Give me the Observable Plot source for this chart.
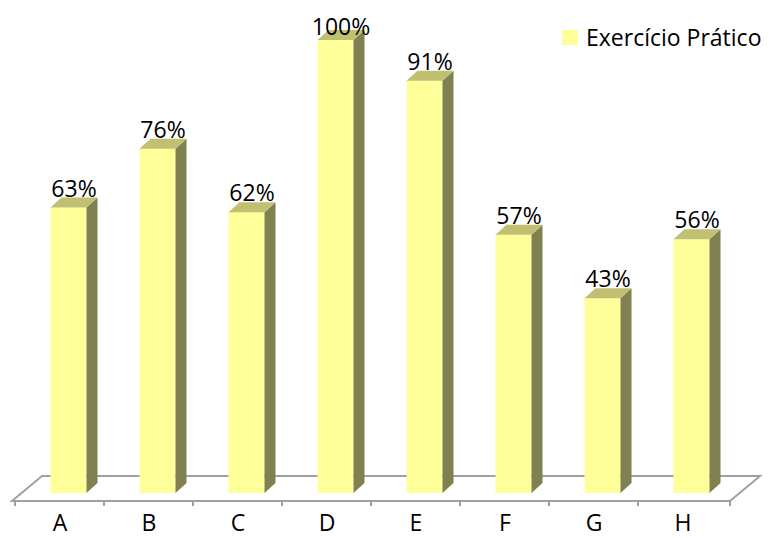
<!DOCTYPE html>
<html><head><meta charset="utf-8">
<script src="https://cdn.jsdelivr.net/npm/d3@7"></script>
<script src="https://cdn.jsdelivr.net/npm/@observablehq/plot@0.6"></script>
<style>body{margin:0;background:#fff} svg{display:block}</style>
</head><body><div id="chart"></div>
<script>
const categories = ["A","B","C","D","E","F","G","H"];
const values = [0.63, 0.76, 0.62, 1.00, 0.91, 0.57, 0.43, 0.56];
const valueLabels = ["63%","76%","62%","100%","91%","57%","43%","56%"];
const seriesName = "Exercício Prático";

const data = categories.map((c, i) => ({cat: c, value: values[i], label: valueLabels[i]}));

const FONT = "'Open Sans', sans-serif";
const FS = 23;
const FRONT = "#FFFF99", TOP = "#C0C070", SIDE = "#808050", FLOOR = "#A0A0A0";
const DX = 11, DY = -10;
const FRONT_OFF = 35.5, FRONT_W = 36;

function getScales(args) { for (const a of args) if (a && typeof a.x === "function" && typeof a.y === "function") return a; }
function getDims(args) { for (const a of args) if (a && typeof a.width === "number" && "marginLeft" in a) return a; }

const floorMark = (...args) => {
  const s = getScales(args), d = getDims(args);
  const x0 = d.marginLeft, x1 = d.width - d.marginRight;
  const yb = s.y(0);
  const fy = yb + 8, by = yb - 17, off = 30;
  const g = d3.create("svg:g").attr("stroke", FLOOR).attr("stroke-width", 2).attr("fill", "none");
  g.append("path").attr("d", `M${x0},${fy}L${x1},${fy}L${x1 + off},${by}L${x0 + off},${by}Z`);
  categories.forEach(c => {
    const xs = s.x(c);
    g.append("line").attr("x1", xs).attr("x2", xs).attr("y1", fy).attr("y2", fy + 5);
  });
  g.append("line").attr("x1", x1).attr("x2", x1).attr("y1", fy).attr("y2", fy + 5);
  return g.node();
};

const barsMark = (...args) => {
  const s = getScales(args);
  const g = d3.create("svg:g");
  const yb = s.y(0);
  data.forEach(dd => {
    const xl = s.x(dd.cat) + FRONT_OFF, xr = xl + FRONT_W;
    const yt = s.y(dd.value);
    g.append("rect").attr("x", xl).attr("y", yt).attr("width", FRONT_W).attr("height", yb - yt).attr("fill", FRONT);
    g.append("path").attr("fill", SIDE)
      .attr("d", `M${xr},${yt}L${xr + DX},${yt + DY}L${xr + DX},${yb + DY}L${xr},${yb}Z`);
    g.append("path").attr("fill", TOP)
      .attr("d", `M${xl},${yt}L${xl + DX},${yt + DY}L${xr + DX},${yt + DY}L${xr},${yt}Z`);
  });
  return g.node();
};

const labelsMark = (...args) => {
  const s = getScales(args);
  const g = d3.create("svg:g").attr("font-family", FONT).attr("font-size", FS).attr("fill", "#000").attr("text-anchor", "middle");
  data.forEach(dd => {
    const cx = s.x(dd.cat) + FRONT_OFF + (FRONT_W + DX) / 2;
    const base = Math.max(s.y(dd.value) - 11, 35);
    g.append("text").attr("x", cx).attr("y", base).text(dd.label);
  });
  return g.node();
};

const legendMark = (...args) => {
  const d = getDims(args);
  const g = d3.create("svg:g").attr("font-family", FONT).attr("font-size", FS).attr("text-anchor", "start");
  const lx = d.width - 208;
  g.append("rect").attr("x", lx).attr("y", 30).attr("width", 16).attr("height", 15).attr("fill", FRONT);
  g.append("text").attr("x", lx + 24).attr("y", 46).attr("fill", "#000").text(seriesName);
  return g.node();
};

const chart = Plot.plot({
  width: 770,
  height: 538,
  marginLeft: 12,
  marginRight: 40,
  marginTop: 40,
  marginBottom: 45,
  style: {fontFamily: FONT, background: "#fff"},
  x: {type: "band", domain: categories, padding: 0},
  y: {domain: [0, 1], axis: null},
  marks: [
    floorMark,
    barsMark,
    labelsMark,
    legendMark,
    Plot.axisX({tickSize: 0, tickPadding: 21, fontSize: FS, fill: "#000"})
  ]
});
document.getElementById("chart").appendChild(chart);
</script>
</body></html>
